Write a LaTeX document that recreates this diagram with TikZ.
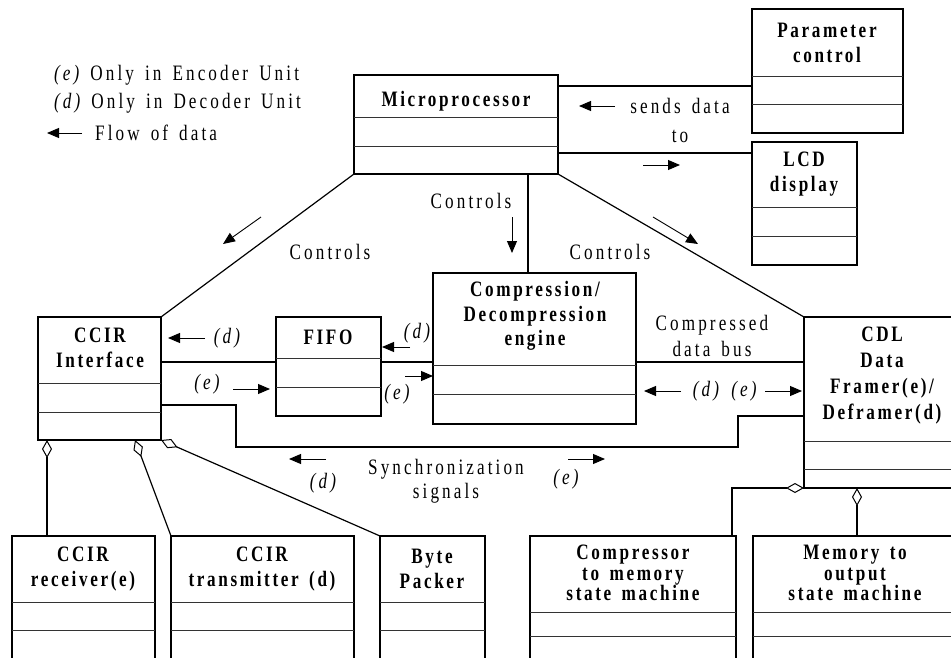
\documentclass[tikz,border=0pt]{standalone}
\usepackage{fontspec}
\setmainfont{Liberation Serif}[LetterSpace=14,FakeStretch=0.78,WordSpace=1.5,BoldFeatures={LetterSpace=12}]
\usetikzlibrary{arrows.meta}
\tikzset{
  clsb/.style={draw, line width=2.2pt, inner sep=0pt, outer sep=0pt, anchor=north west},
  divider/.style={line width=0.9pt, black!80},
  conn/.style={line width=1.2pt},
  flow/.style={-{Triangle[length=12pt,width=10pt]}, line width=0.9pt},
  agg/.style={{Diamond[open,length=18pt,width=10pt,line width=1pt]}-, line width=1.2pt},
  title/.style={font=\bfseries\fontsize{22}{24.5}\selectfont, align=center, inner sep=0pt},
  lbl/.style={font=\fontsize{22}{24.5}\selectfont, align=center, inner sep=0pt}
}
\newcommand\clsbox[7]{%
  \node[clsb, minimum width={(#4-#2)*1pt}, minimum height={(#5-#3)*1pt}] (#1) at (#2,#3) {};
  \draw[divider] (#1.west |- 0,#6) -- (#1.east |- 0,#6);
  \draw[divider] (#1.west |- 0,#7) -- (#1.east |- 0,#7);}
\begin{document}
\begin{tikzpicture}[x=1pt,y=-1pt]
\useasboundingbox (0,0) rectangle (951,657);
\clip (0,0) rectangle (951,657);
\fill[white] (0,0) rectangle (951,657);
% legend
\node[lbl, anchor=west] (leg1) at (54,75) {\itshape(e)\upshape{} Only in Encoder Unit};
\node[lbl, anchor=west] (leg2) at (54,103) {\itshape(d)\upshape{} Only in Decoder Unit};
\coordinate (la1) at (82,133); \coordinate (la2) at (47,133);
\draw[flow] (la1) -- (la2);
\node[lbl, anchor=west] (leg3) at (95,133) {Flow of data};
% boxes
\clsbox{param}{752}{9}{903}{133}{76}{104}
\clsbox{lcd}{752}{142}{857}{265}{207}{236}
\clsbox{micro}{354}{75}{558}{174}{117}{146}
\clsbox{ccir}{38}{317}{161}{440}{383}{412}
\clsbox{fifo}{276}{317}{381}{416}{358}{387}
\clsbox{comp}{433}{273}{636}{424}{365}{394}
\clsbox{cdl}{804}{317}{1000}{488}{441}{469}
\clsbox{rec}{12}{536}{155}{700}{602}{630}
\clsbox{tx}{171}{536}{354}{700}{602}{630}
\clsbox{byte}{380}{536}{485}{700}{602}{630}
\clsbox{cmsm}{530}{536}{736}{700}{612}{636}
\clsbox{mosm}{753}{536}{1000}{700}{612}{636}
% titles
\node[title] (tparam) at (827,43) {Parameter\\control};
\node[title] (tlcd) at (804,174) {LCD\\display};
\node[title] (tmicro) at (456,101) {Microprocessor};
\node[title] (tccir) at (100,348) {CCIR\\Interface};
\node[title] (tfifo) at (328,337) {FIFO};
\node[title] (tcomp) at (535,316) {Compression/\\Decompression\\engine};
\node[title, font=\bfseries\fontsize{22}{26}\selectfont] (tcdl) at (882,376) {CDL\\Data\\Framer(e)/\\Deframer(d)};
\node[title] (trec) at (83,569) {CCIR\\receiver(e)};
\node[title] (ttx) at (262,569) {CCIR\\transmitter (d)};
\node[title] (tbyte) at (432,569) {Byte\\Packer};
\node[title, font=\bfseries\fontsize{22}{20.5}\selectfont] (tcmsm) at (633,573) {Compressor\\to memory\\state machine};
\node[title, font=\bfseries\fontsize{22}{20.5}\selectfont] (tmosm) at (855,573) {Memory to\\output\\state machine};
% connectors
\draw[conn] (micro.east |- 0,86) -- (param.west |- 0,86);
\draw[conn] (micro.east |- 0,153) -- (lcd.west |- 0,153);
\draw[conn] (micro.south west) -- (ccir.north east);
\draw[conn] (micro.south -| 528,0) -- (comp.north -| 528,0);
\draw[conn] (micro.south east) -- (cdl.north west);
\draw[conn] (ccir.east |- 0,362) -- (fifo.west |- 0,362);
\draw[conn] (fifo.east |- 0,362) -- (comp.west |- 0,362);
\draw[conn] (comp.east |- 0,362) -- (cdl.west |- 0,362);
\draw[conn] (ccir.east |- 0,405) -- (236,405) -- (236,447) -- (738,447) -- (738,416) -- (cdl.west |- 0,416);
% aggregations
\draw[agg] (ccir.south -| 47,0) -- (rec.north -| 47,0);
\draw[agg] (ccir.south -| 135,0) -- (tx.north west);
\draw[agg] (ccir.south east) -- (byte.north west);
\draw[agg] (cdl.south west) -- (732,488) -- (cmsm.north -| 732,0);
\draw[agg] (cdl.south -| 857,0) -- (mosm.north -| 857,0);
% labels and flow arrows
\node[lbl] (lsend) at (680,106) {sends data};
\node[lbl] (lto) at (680,136) {to};
\draw[flow] (615,106) -- (579,106);
\draw[flow] (643,165) -- (680,165);
\node[lbl] (lc1) at (330,252) {Controls};
\draw[flow] (261,217) -- (223,244);
\node[lbl] (lc2) at (471,201) {Controls};
\draw[flow] (512,217) -- (512,253);
\node[lbl] (lc3) at (610,252) {Controls};
\draw[flow] (653,217) -- (698,244);
\node[lbl, font=\fontsize{22}{26}\selectfont] (lbus) at (712,336) {Compressed\\data bus};
\node[lbl] (d1) at (227,338) {\itshape(d)};
\draw[flow] (205,338) -- (168,338);
\node[lbl] (e1) at (207,384) {\itshape(e)};
\draw[flow] (233,389) -- (270,389);
\node[lbl] (d2) at (417,333) {\itshape(d)};
\draw[flow] (410,347) -- (382,347);
\node[lbl] (e2) at (397,394) {\itshape(e)};
\draw[flow] (405,376) -- (433,376);
\draw[flow] (681,391) -- (644,391);
\node[lbl] (d3) at (706,391) {\itshape(d)};
\node[lbl] (e3) at (744,391) {\itshape(e)};
\draw[flow] (765,391) -- (802,391);
\draw[flow] (326,459) -- (289,459);
\node[lbl] (d4) at (323,483) {\itshape(d)};
\node[lbl] (lsync) at (446,481) {Synchronization\\signals};
\draw[flow] (568,459) -- (605,459);
\node[lbl] (e4) at (566,479) {\itshape(e)};
\end{tikzpicture}
\end{document}
